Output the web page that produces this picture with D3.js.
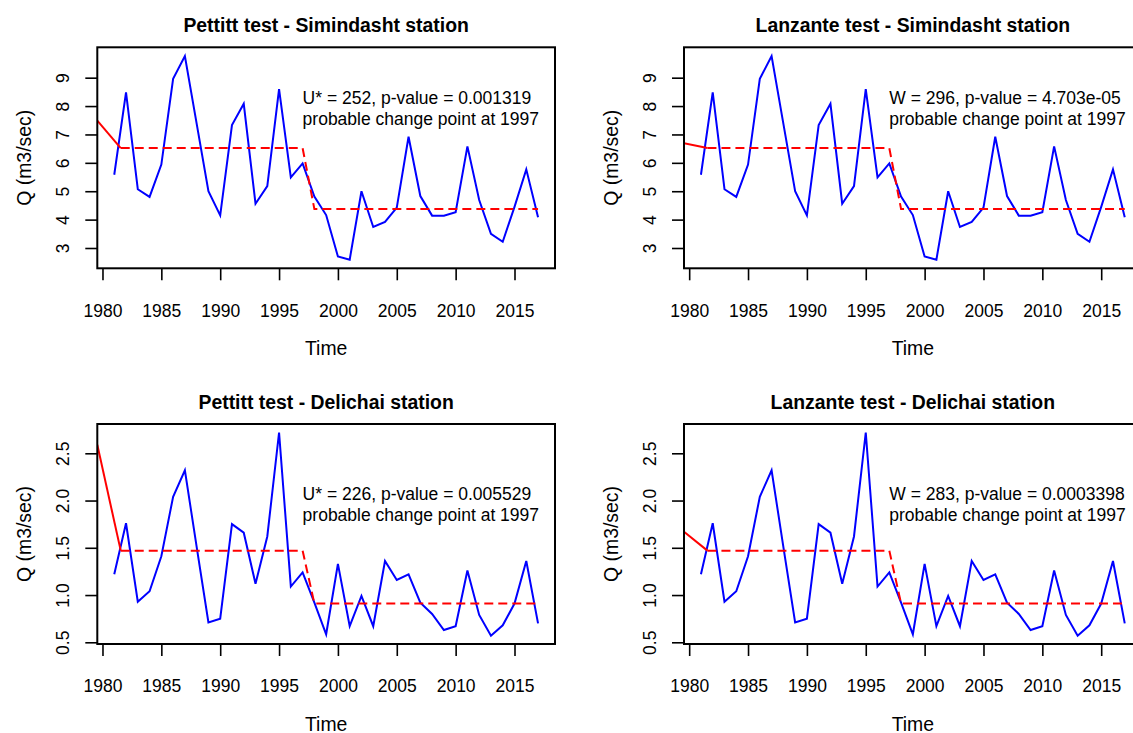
<!DOCTYPE html>
<html>
<head>
<meta charset="utf-8">
<script src="https://cdn.jsdelivr.net/npm/d3@7"></script>
<style>
  body { margin: 0; background: #fff; }
  svg text { font-family: "Liberation Sans", Arial, sans-serif; fill: #000; }
</style>
</head>
<body>
<script>
// data
const years = d3.range(1981, 2018)
const simindasht = [5.58, 8.48, 5.07, 4.80, 5.94, 8.96, 9.76, 7.38, 5.00, 4.15, 7.33, 8.08, 4.56, 5.18, 8.60, 5.49, 5.98, 4.81, 4.16, 2.70,
                    2.59, 5.00, 3.74, 3.92, 4.42, 6.92, 4.83, 4.14, 4.14, 4.26, 6.58, 4.69, 3.50, 3.22, 4.45, 5.77, 4.08]
const delichai = [1.22, 1.76, 0.93, 1.04, 1.41, 2.04, 2.32, 1.51, 0.71, 0.75, 1.75, 1.66, 1.12, 1.62, 2.72, 1.09, 1.24, 0.92, 0.585, 1.33,
                  0.67, 0.99, 0.67, 1.36, 1.16, 1.22, 0.92, 0.80, 0.63, 0.67, 1.26, 0.79, 0.57, 0.68, 0.91, 1.36, 0.70]

const changeYears = [1981.55, 1997, 1998, 2017]     // dashed red step
const simMeans = [6.52, 4.37]
const delMeans = [1.47, 0.91]
const leadYear = 1979.56                            // solid red lead-in starts here
const leadStart = [7.49, 6.69, 2.59, 1.67]          // pettitt sim, lanzante sim, pettitt del, lanzante del

const titles = ["Pettitt test - Simindasht station", "Lanzante test - Simindasht station",
                "Pettitt test - Delichai station", "Lanzante test - Delichai station"]
const statLines = ["U* = 252, p-value = 0.001319", "W = 296, p-value = 4.703e-05",
                   "U* = 226, p-value = 0.005529", "W = 283, p-value = 0.0003398"]
const changeLine = "probable change point at 1997"
const textYear = 1997
const textLevel = [7.92, 1.96]

const xTicks = d3.range(1980, 2016, 5)
const simTicks = [3, 4, 5, 6, 7, 8, 9]
const delTicks = [0.5, 1.0, 1.5, 2.0, 2.5]
const xDomain = [1979.56, 2018.44]
const simDomain = [2.285, 10.07]
const delDomain = [0.482, 2.81]

let width = 1133
let height = 733
let boxW = 457.7

let svg = d3.select('body').append('svg')
    .attr('width', width)
    .attr('height', height)

let panels = [
    {left: 97.3, top: 47.3, h: 221, series: simindasht, means: simMeans, dom: simDomain, ticks: simTicks, fmt: d3.format('d'), lvl: textLevel[0]},
    {left: 684,  top: 47.3, h: 221, series: simindasht, means: simMeans, dom: simDomain, ticks: simTicks, fmt: d3.format('d'), lvl: textLevel[0]},
    {left: 97.3, top: 424,  h: 220, series: delichai,   means: delMeans, dom: delDomain, ticks: delTicks, fmt: d3.format('.1f'), lvl: textLevel[1]},
    {left: 684,  top: 424,  h: 220, series: delichai,   means: delMeans, dom: delDomain, ticks: delTicks, fmt: d3.format('.1f'), lvl: textLevel[1]}
]

panels.forEach((p, i) => {
    let g = svg.append('g').attr('transform', 'translate(' + p.left + ',' + p.top + ')')

    let x = d3.scaleLinear().domain(xDomain).range([0, boxW])
    let y = d3.scaleLinear().domain(p.dom).range([p.h, 0])

    g.append('clipPath').attr('id', 'clip' + i)
        .append('rect').attr('width', boxW).attr('height', p.h)

    // x axis
    let xa = g.append('g')
        .attr('transform', 'translate(0,' + p.h + ')')
        .call(d3.axisBottom(x).tickValues(xTicks).tickFormat(d3.format('d')).tickSize(12).tickSizeOuter(0))
    xa.select('.domain').remove()
    xa.selectAll('line').attr('stroke', '#000').attr('stroke-width', 1.6)
    xa.selectAll('text').attr('y', 48.4).attr('dy', 0)
        .attr('font-size', '17.5px').attr('font-family', null).attr('fill', '#111')

    // y axis, labels turned like R does
    let ya = g.append('g')
        .call(d3.axisLeft(y).tickValues(p.ticks).tickFormat(p.fmt).tickSize(12).tickSizeOuter(0))
    ya.select('.domain').remove()
    ya.selectAll('line').attr('stroke', '#000').attr('stroke-width', 1.6)
    ya.selectAll('text')
        .attr('x', 0).attr('dy', 0)
        .attr('transform', 'translate(-28.3,0) rotate(-90)')
        .attr('text-anchor', 'middle')
        .attr('font-size', '17.5px').attr('font-family', null).attr('fill', '#111')

    let plot = g.append('g').attr('clip-path', 'url(#clip' + i + ')')

    let line = d3.line().x(d => x(d[0])).y(d => y(d[1]))

    plot.append('path')
        .datum(years.map((yr, k) => [yr, p.series[k]]))
        .attr('d', line)
        .attr('fill', 'none').attr('stroke', '#0000ff').attr('stroke-width', 2)

    plot.append('path')
        .datum([[leadYear, leadStart[i]], [changeYears[0], p.means[0]]])
        .attr('d', line)
        .attr('fill', 'none').attr('stroke', '#ff0000').attr('stroke-width', 2)

    plot.append('path')
        .datum([[changeYears[0], p.means[0]], [changeYears[1], p.means[0]],
                [changeYears[2], p.means[1]], [changeYears[3], p.means[1]]])
        .attr('d', line)
        .attr('fill', 'none').attr('stroke', '#ff0000').attr('stroke-width', 2)
        .attr('stroke-dasharray', '9,5')

    // box
    g.append('rect')
        .attr('width', boxW).attr('height', p.h)
        .attr('fill', 'none').attr('stroke', '#000').attr('stroke-width', 2)

    // annotation
    let tx = x(textYear)
    let ty = y(p.lvl)
    g.append('text').attr('x', tx).attr('y', ty - 4.2)
        .attr('font-size', '17.5px').attr('fill', '#111').text(statLines[i])
    g.append('text').attr('x', tx).attr('y', ty + 16.8)
        .attr('font-size', '17.5px').attr('fill', '#111').text(changeLine)

    // titles and axis names
    g.append('text').attr('x', boxW / 2).attr('y', -15)
        .attr('text-anchor', 'middle').attr('font-size', '19.4px').attr('font-weight', 'bold')
        .text(titles[i])
    g.append('text').attr('x', boxW / 2).attr('y', p.h + 86.5)
        .attr('text-anchor', 'middle').attr('font-size', '19.4px').attr('fill', '#111')
        .text('Time')
    g.append('text')
        .attr('transform', 'translate(-66,' + (p.h / 2) + ') rotate(-90)')
        .attr('text-anchor', 'middle').attr('font-size', '19.4px').attr('fill', '#111')
        .text('Q (m3/sec)')
})
</script>
</body>
</html>
